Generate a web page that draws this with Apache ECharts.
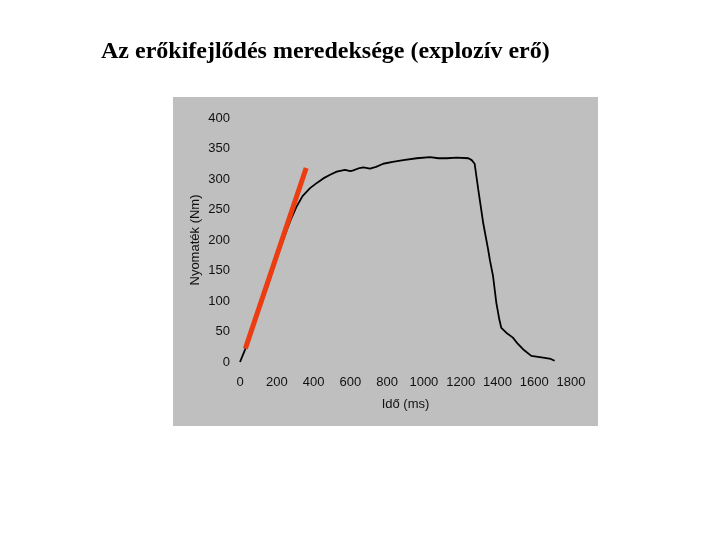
<!DOCTYPE html>
<html>
<head>
<meta charset="utf-8">
<script src="https://cdn.jsdelivr.net/npm/echarts@6/dist/echarts.min.js"></script>
<style>html,body{margin:0;padding:0;background:#fff}#c{width:720px;height:540px}</style>
</head>
<body>
<div id="c"></div>
<script>
const titleText = "Az erőkifejlődés meredeksége (explozív erő)";
const xAxisName = "Idő (ms)";
const yAxisName = "Nyomaték (Nm)";
const timeMs = [0, 5, 27, 80, 150, 200, 254, 280, 308, 340, 381, 420, 453, 490, 526, 571, 600, 616, 650, 671, 707, 740, 779, 830, 888, 961, 1033, 1080, 1124, 1178, 1242, 1260, 1276, 1296, 1323, 1349, 1359, 1376, 1394, 1410, 1421, 1448, 1484, 1510, 1539, 1584, 1648, 1690, 1711];
const torque = [0, 2, 20, 68, 124, 170, 216, 236, 255, 272, 285, 294, 301, 307, 312, 315, 313, 314, 318, 319, 317, 320, 325, 328, 331, 334, 336, 334, 334, 335, 334, 331, 325, 282, 227, 185, 167, 141, 97, 70, 56, 48, 40, 30, 21, 10, 7, 5, 2];
const slopeX = [29, 360];
const slopeY = [22, 318];
const xTicks = [0, 200, 400, 600, 800, 1000, 1200, 1400, 1600, 1800];
const yTicks = [0, 50, 100, 150, 200, 250, 300, 350, 400];

const chart = echarts.init(document.getElementById('c'));
const txt = '#111111';
chart.setOption({
  animation: false,
  backgroundColor: '#ffffff',
  title: {
    text: titleText, left: 96, top: 35,
    textStyle: { fontFamily: 'Liberation Serif', fontWeight: 'bold', fontSize: 24, color: '#000' }
  },
  graphic: [{
    type: 'rect', z: -10, silent: true,
    shape: { x: 173, y: 97, width: 425, height: 329 },
    style: { fill: '#bfbfbf' }
  }],
  grid: { left: 240, right: 149, top: 118, bottom: 178 },
  xAxis: {
    type: 'value', min: xTicks[0], max: xTicks[xTicks.length - 1], interval: 200,
    name: xAxisName, nameLocation: 'middle', nameGap: 36,
    nameTextStyle: { fontFamily: 'Liberation Sans', fontSize: 13, color: txt },
    axisLine: { show: false }, axisTick: { show: false }, splitLine: { show: false },
    axisLabel: { fontFamily: 'Liberation Sans', fontSize: 13, color: txt, margin: 14, formatter: v => String(v) }
  },
  yAxis: {
    type: 'value', min: yTicks[0], max: yTicks[yTicks.length - 1], interval: 50,
    name: yAxisName, nameLocation: 'middle', nameGap: 38,
    nameTextStyle: { fontFamily: 'Liberation Sans', fontSize: 13, color: txt },
    axisLine: { show: false }, axisTick: { show: false }, splitLine: { show: false },
    axisLabel: { fontFamily: 'Liberation Sans', fontSize: 13, color: txt, margin: 10, formatter: v => String(v) }
  },
  series: [
    {
      type: 'line', data: timeMs.map((t, i) => [t, torque[i]]),
      symbol: 'none', lineStyle: { color: '#000', width: 1.8 }, z: 2
    },
    {
      type: 'line', data: slopeX.map((t, i) => [t, slopeY[i]]),
      symbol: 'none', lineStyle: { color: '#ec3d12', width: 5, cap: 'butt' }, z: 3
    }
  ]
});
</script>
</body>
</html>
